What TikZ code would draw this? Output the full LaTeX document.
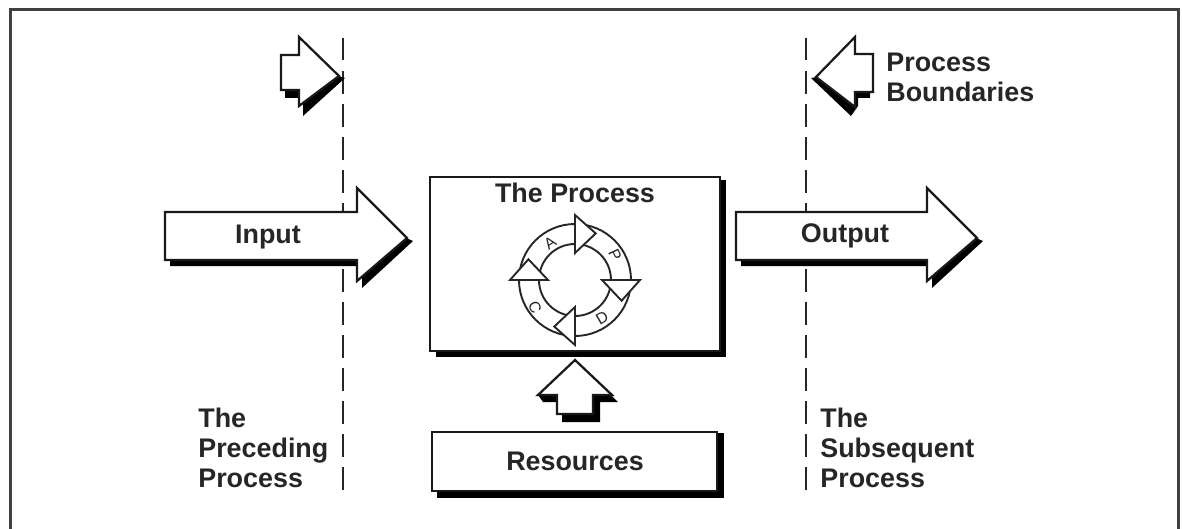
\documentclass[tikz,border=0pt]{standalone}
\usepackage{fontspec}
\setmainfont{Liberation Sans}
\usepackage{tikz}
\usetikzlibrary{calc}
\definecolor{clrBorders}{gray}{0.25}
\tikzstyle{frame_line}=[draw=clrBorders, line width=0.6mm]
\tikzstyle{boundary}=[draw=black!85, line width=0.45mm, dash pattern=on 4.5mm off 2.1mm]
\tikzstyle{block_white}=[draw=black!90, fill=white, line width=0.45mm, line join=miter]
\tikzstyle{block_shadow}=[fill=black]
\tikzstyle{ring}=[draw=black!85, line width=0.38mm]
\tikzstyle{ring_head}=[draw=black!85, fill=white, line width=0.38mm]
\tikzstyle{caption}=[font=\fontsize{15.3}{17.2}\selectfont\bfseries, text=black!85, inner sep=0pt]
\tikzstyle{ring_label}=[font=\fontsize{9}{10}\selectfont, text=black!85, inner sep=0pt]

\begin{document}
\begin{tikzpicture}[x=0.2mm, y=-0.2mm]
	\useasboundingbox (0,0) rectangle (1182,529);

	\draw[frame_line] (10,529) -- (10,10) -- (1178,10) -- (1178,529);

	\draw[boundary] (343,38) -- (343,500);
	\draw[boundary] (806,38) -- (806,500);

	% the two flanking arrows
	\fill[block_shadow] (170,260) -- (170,266) -- (362,266) -- (362,288) -- (413,241) -- (406,238) -- (357,240) -- cycle;
	\draw[block_white] (165,212) -- (357,212) -- (357,188) -- (407,238) -- (357,281) -- (357,260) -- (165,260) -- cycle;
	\node[caption, anchor=base] (input) at (268,243) {Input};

	\fill[block_shadow] (741,260) -- (741,266) -- (932,266) -- (932,288) -- (983,241) -- (976,238) -- (927,240) -- cycle;
	\draw[block_white] (736,212) -- (927,212) -- (927,188) -- (977,238) -- (927,281) -- (927,260) -- (736,260) -- cycle;
	\node[caption, anchor=base] (output) at (845,242) {Output};

	% small boundary markers
	\fill[block_shadow] (285,90) -- (285,98) -- (303,98) -- (303,116) -- (345,78) -- (338,76) -- (299,77) -- cycle;
	\draw[block_white] (281,55) -- (299,55) -- (299,37) -- (339,76) -- (299,106) -- (299,90) -- (281,90) -- cycle;

	\fill[block_shadow] (811,78) -- (851,116) -- (858,106) -- (858,98) -- (870,98) -- (870,78) -- (817,77) -- cycle;
	\draw[block_white] (816,77) -- (855,37) -- (855,54) -- (873,54) -- (873,92) -- (855,92) -- (855,107) -- cycle;
	\node[caption, anchor=west, align=left] (boundaries) at (886,77) {Process\\Boundaries};

	% process box with the ring
	\fill[block_shadow] (436,345) rectangle (726,357);
	\fill[block_shadow] (715,180) rectangle (726,357);
	\draw[block_white] (430,177) rectangle (720,351);
	\node[caption, anchor=base] (process) at (575,202) {The Process};

	\begin{scope}[shift={(575,280)}]
		\draw[ring] (0,0) circle[radius=56];
		\draw[ring] (0,0) circle[radius=36];
		\foreach \a in {-90,0,90,180} {
			\draw[ring_head] (\a:65) -- ({\a+24}:51) -- (\a:27) -- cycle;
		}
	\end{scope}
	\node[ring_label, rotate=35] (plan_a) at (550,243) {A};
	\node[ring_label, rotate=-65] (plan_p) at (615,255) {P};
	\node[ring_label, rotate=30] (plan_d) at (602,318) {D};
	\node[ring_label, rotate=-65] (plan_c) at (535,307) {C};

	% resources
	\fill[block_shadow] (538,395) -- (543,402) -- (562,402) -- (562,422) -- (600,422) -- (600,402) -- (618,402) -- (575,360) -- cycle;
	\draw[block_white] (575,360) -- (612,395) -- (593,395) -- (593,414) -- (557,414) -- (557,395) -- (538,395) -- cycle;

	\fill[block_shadow] (437,433) rectangle (724,498);
	\draw[block_white] (432,432) rectangle (717,491);
	\node[caption, anchor=base] (resources) at (575,470) {Resources};

	\node[caption, anchor=west, align=left] (preceding) at (198,448) {The\\Preceding\\Process};
	\node[caption, anchor=west, align=left] (subsequent) at (820,448) {The\\Subsequent\\Process};
\end{tikzpicture}
\end{document}
